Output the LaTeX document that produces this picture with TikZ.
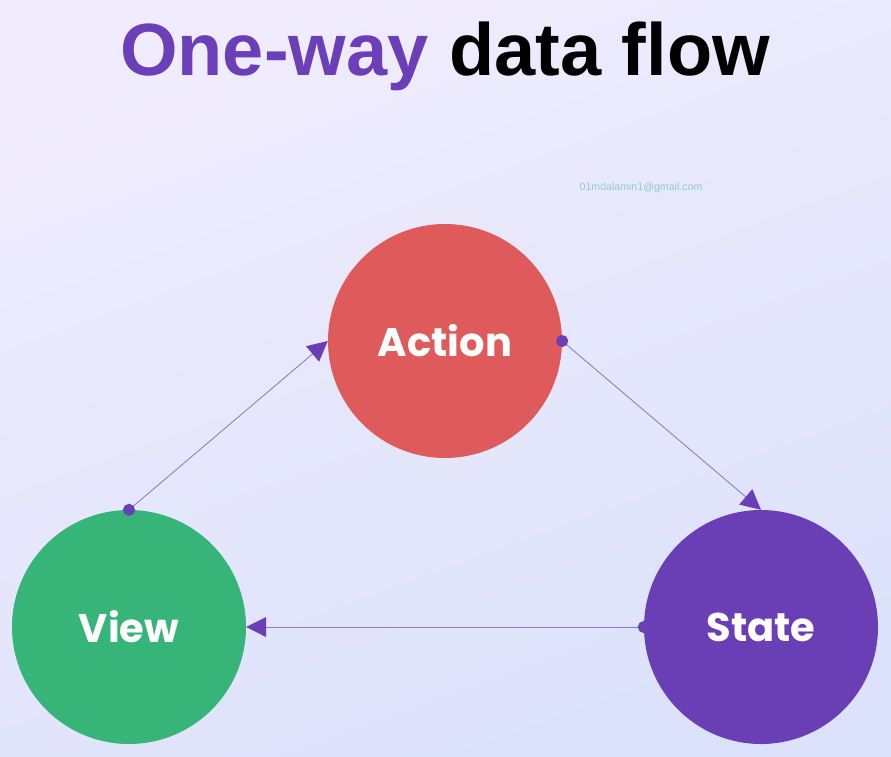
\documentclass[tikz,border=0pt]{standalone}
\usepackage{fontspec}
\setmainfont{Liberation Sans}
\newfontfamily\poppins{Poppins}
\usetikzlibrary{arrows.meta}
\definecolor{bgtop}{HTML}{F0ECFD}
\definecolor{bgbottom}{HTML}{DCE2FB}
\definecolor{titlepurple}{HTML}{6B3FB7}
\definecolor{actionred}{HTML}{DF5A5A}
\definecolor{viewgreen}{HTML}{37B477}
\definecolor{statepurple}{HTML}{6A3FB5}
\definecolor{flowline}{HTML}{8A80C6}
\definecolor{mailteal}{HTML}{8CCDCD}
\tikzset{
  flowcircle/.style={circle, minimum size=234pt, inner sep=0pt, text=white,
    font=\poppins\bfseries\fontsize{40}{48}\selectfont},
  flowarrow/.style={draw=flowline, line width=0.9pt, shorten <=-6pt,
    {Circle[length=12pt, fill=statepurple, color=statepurple]}-{Triangle[length=20pt, width=20pt, fill=statepurple, color=statepurple]}}
}
\begin{document}
\begin{tikzpicture}[x=1pt, y=-1pt]
\useasboundingbox (0,0) rectangle (891,756);
\shade[top color=bgtop, bottom color=bgbottom, shading angle=20] (0,0) rectangle (891,756);
\node[anchor=base, font=\bfseries\fontsize{74}{80}\selectfont] (title) at (445,75) {\textcolor{titlepurple}{One-way} data flow};
\node[text=mailteal, font=\fontsize{10.6}{12}\selectfont] (mail) at (641,188) {01mdalamin1@gmail.com};
\node[flowcircle, fill=actionred] (action) at (445,341) {Action};
\node[flowcircle, fill=viewgreen] (view) at (129,627) {View};
\node[flowcircle, fill=statepurple] (state) at (761,627) {State};
\draw[flowarrow] (view.north) -- (action.west);
\draw[flowarrow] (action.east) -- (state.north);
\draw[flowarrow] (state.west) -- (view.east);
\end{tikzpicture}
\end{document}
